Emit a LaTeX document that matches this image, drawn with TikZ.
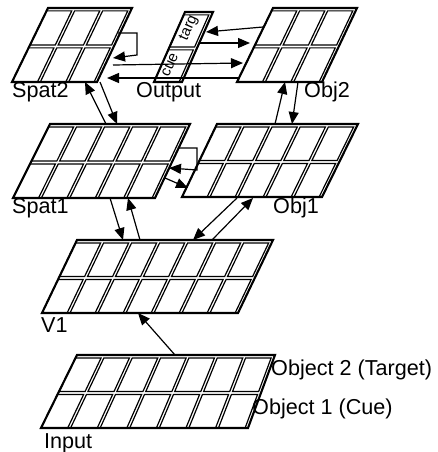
\documentclass[tikz,border=0pt]{standalone}
\usepackage{fontspec}
\setmainfont{Liberation Sans}
\usetikzlibrary{arrows.meta}
\newcommand\cg{2.9}
\newcommand\cpt[2]{%
  \pgfmathsetmacro\tmpx{(1-#2)*(\lBLx+#1*(\lBRx-\lBLx))+#2*(\lTLx+#1*(\lTRx-\lTLx))}%
  \pgfmathsetmacro\tmpy{\lBy+#2*(\lTy-\lBy)}}
% #1 BLx #2 BRx #3 TLx #4 TRx #5 bottom y #6 top y #7 columns
\newcommand\layer[7]{%
  \def\lBLx{#1}\def\lBRx{#2}\def\lTLx{#3}\def\lTRx{#4}\def\lBy{#5}\def\lTy{#6}%
  \foreach \i in {1,...,#7}{\foreach \j in {0,1}{%
    \pgfmathsetmacro\ua{(\i-1)/#7}%
    \pgfmathsetmacro\ub{\i/#7-\cg/(#2-#1)}%
    \pgfmathsetmacro\va{\j/2}%
    \pgfmathsetmacro\vb{(\j+1)/2-\cg/(#5-#6)}%
    \cpt{\ua}{\va}\let\xa\tmpx\let\ya\tmpy
    \cpt{\ub}{\va}\let\xb\tmpx\let\yb\tmpy
    \cpt{\ub}{\vb}\let\xc\tmpx\let\yc\tmpy
    \cpt{\ua}{\vb}\let\xd\tmpx\let\yd\tmpy
    \draw[cellline] (\xa,\ya) -- (\xb,\yb) -- (\xc,\yc) -- (\xd,\yd) -- cycle;
  }}%
  \draw[layerline] (#1,#5) -- (#2,#5) -- (#4,#6) -- (#3,#6) -- cycle;
}
\tikzset{
  cellline/.style={line width=1.2pt, line join=miter},
  layerline/.style={line width=2.1pt, line join=miter},
  arr/.style={line width=1.2pt, -{Triangle[length=12pt,width=10pt]}},
  lab/.style={font=\fontsize{21.6}{22}\selectfont, inner sep=0pt, anchor=west},
  small/.style={font=\fontsize{15}{15}\selectfont, inner sep=0pt, rotate=66},
}
\begin{document}
\begin{tikzpicture}[x=1pt,y=-1pt]
\useasboundingbox (0,0) rectangle (438,452);
% layers
\layer{41}{248}{77}{275}{428}{355}{7}   % Input
\layer{42}{238}{77}{273}{313}{240}{7}   % V1
\layer{13}{155}{50}{190}{198}{124}{5}   % Spat1
\layer{182}{322}{217}{358}{197}{124}{5} % Obj1
\layer{12}{97}{48}{132}{82}{8}{3}       % Spat2
\layer{237}{322}{273}{357}{82}{8}{3}    % Obj2
\layer{154}{182}{185}{213}{82}{12}{1}   % Output
% labels
\node[lab] (input) at (44,443) {Input};
\node[lab] (obj2t) at (271,370) {Object 2 (Target)};
\node[lab] (obj1c) at (252,409) {Object 1 (Cue)};
\node[lab] (v1) at (41,325) {V1};
\node[lab] (spat1) at (12,208) {Spat1};
\node[lab] (obj1) at (273,208) {Obj1};
\node[lab] (spat2) at (12,92) {Spat2};
\node[lab] (output) at (136,92) {Output};
\node[lab] (obj2) at (304,92) {Obj2};
\node[small] (cue) at (170,65) {cue};
\node[small] (targ) at (189,28) {targ};
% connection end points
\coordinate (inT) at (175,355);  \coordinate (v1B) at (138,313);
\coordinate (s1a) at (110,198);  \coordinate (v1a) at (123,240);
\coordinate (v1b) at (140,240);  \coordinate (s1b) at (128,198);
\coordinate (o1a) at (237,198);  \coordinate (v1c) at (193,240);
\coordinate (v1d) at (212,240);  \coordinate (o1b) at (253,198);
\coordinate (s1c) at (106,124);  \coordinate (s2a) at (85,82);
\coordinate (s2b) at (100,82);   \coordinate (s1d) at (117,124);
\coordinate (o1c) at (275,124);  \coordinate (o2a) at (285,82);
\coordinate (o2b) at (298,82);   \coordinate (o1d) at (292,124);
\coordinate (o2c) at (263,27);   \coordinate (outa) at (206,32);
\coordinate (outb) at (200,43);  \coordinate (o2d) at (250,43);
\coordinate (s2c) at (113,65);   \coordinate (o2e) at (243,63);
\coordinate (o2f) at (238,78);   \coordinate (s2d) at (107,78);
\coordinate (s2e) at (118,33);   \coordinate (s2f) at (137,33);
\coordinate (s2g) at (137,55);   \coordinate (s2h) at (113,58);
\coordinate (s1e) at (179,148);  \coordinate (s1f) at (197,148);
\coordinate (s1g) at (197,170);  \coordinate (s1h) at (169,168);
\coordinate (s1i) at (165,178);  \coordinate (o1e) at (188,188);
% connectors
\draw[arr] (inT) -- (v1B);
\draw[arr] (s1a) -- (v1a);
\draw[arr] (v1b) -- (s1b);
\draw[arr] (o1a) -- (v1c);
\draw[arr] (v1d) -- (o1b);
\draw[arr] (s1c) -- (s2a);
\draw[arr] (s2b) -- (s1d);
\draw[arr] (o1c) -- (o2a);
\draw[arr] (o2b) -- (o1d);
\draw[arr] (o2c) -- (outa);
\draw[arr] (outb) -- (o2d);
\draw[arr] (s2c) -- (o2e);
\draw[arr] (o2f) -- (s2d);
\draw[arr] (s2e) -- (s2f) -- (s2g) -- (s2h);
\draw[arr] (s1e) -- (s1f) -- (s1g) -- (s1h);
\draw[arr] (s1i) -- (o1e);
\end{tikzpicture}
\end{document}
